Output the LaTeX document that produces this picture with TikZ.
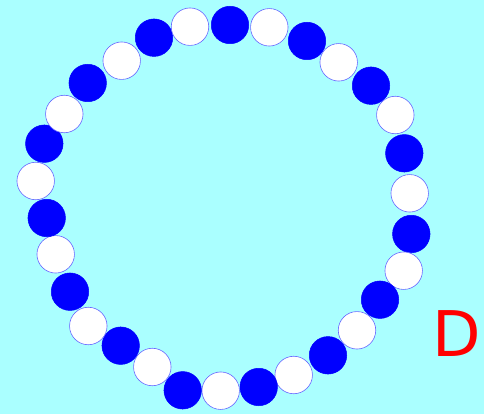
\documentclass[tikz,border=0pt]{standalone}
\usepackage{fontspec}
\usepackage{tikz}
\definecolor{skycyan}{RGB}{170,255,255}
\newfontfamily\letterfont{DejaVu Sans}

\begin{document}
\begin{tikzpicture}[
  x=1pt, y=-1pt,
  bluebead/.style={circle, fill=blue, draw=blue, line width=0.5pt, minimum size=37.5pt, inner sep=0pt},
  whitebead/.style={circle, fill=white, draw=blue!60, line width=0.6pt, minimum size=37.5pt, inner sep=0pt},
  letter/.style={text=red, inner sep=0pt, font=\letterfont\fontsize{63}{63}\selectfont}
]
\fill[skycyan] (0,0) rectangle (484,414);
\useasboundingbox (0,0) rectangle (484,414);

\node[bluebead]  (b1)  at (230,25)    {};
\node[whitebead] (w1)  at (269.3,27.3) {};
\node[bluebead]  (b2)  at (307,41)    {};
\node[whitebead] (w2)  at (338.7,62.3) {};
\node[bluebead]  (b3)  at (371,85.7)  {};
\node[whitebead] (w3)  at (395.3,115) {};
\node[bluebead]  (b4)  at (404.3,153.3) {};
\node[whitebead] (w4)  at (409.7,193.3) {};
\node[bluebead]  (b5)  at (411.3,234) {};
\node[whitebead] (w5)  at (403.7,270.7) {};
\node[bluebead]  (b6)  at (380,299.7) {};
\node[whitebead] (w6)  at (357,330.3) {};
\node[bluebead]  (b7)  at (328,355.3) {};
\node[whitebead] (w7)  at (293.7,375) {};
\node[bluebead]  (b8)  at (258.7,387) {};
\node[whitebead] (w8)  at (220.7,390.7) {};
\node[bluebead]  (b9)  at (182.7,390.3) {};
\node[whitebead] (w9)  at (152.3,367) {};
\node[bluebead]  (b10) at (120.7,345.7) {};
\node[whitebead] (w10) at (88.3,326) {};
\node[bluebead]  (b11) at (70,291.7)  {};
\node[whitebead] (w11) at (55.7,254.3) {};
\node[bluebead]  (b12) at (46.7,218)  {};
\node[whitebead] (w12) at (35.7,181)  {};
\node[bluebead]  (b13) at (44.3,143.7) {};
\node[whitebead] (w13) at (64.3,114)  {};
\node[bluebead]  (b14) at (87.7,83)   {};
\node[whitebead] (w14) at (121.7,60.7) {};
\node[bluebead]  (b15) at (154,37.7)  {};
\node[whitebead] (w15) at (190,26.7)  {};

\node[letter] (tag) at (457,334) {D};
\end{tikzpicture}
\end{document}
